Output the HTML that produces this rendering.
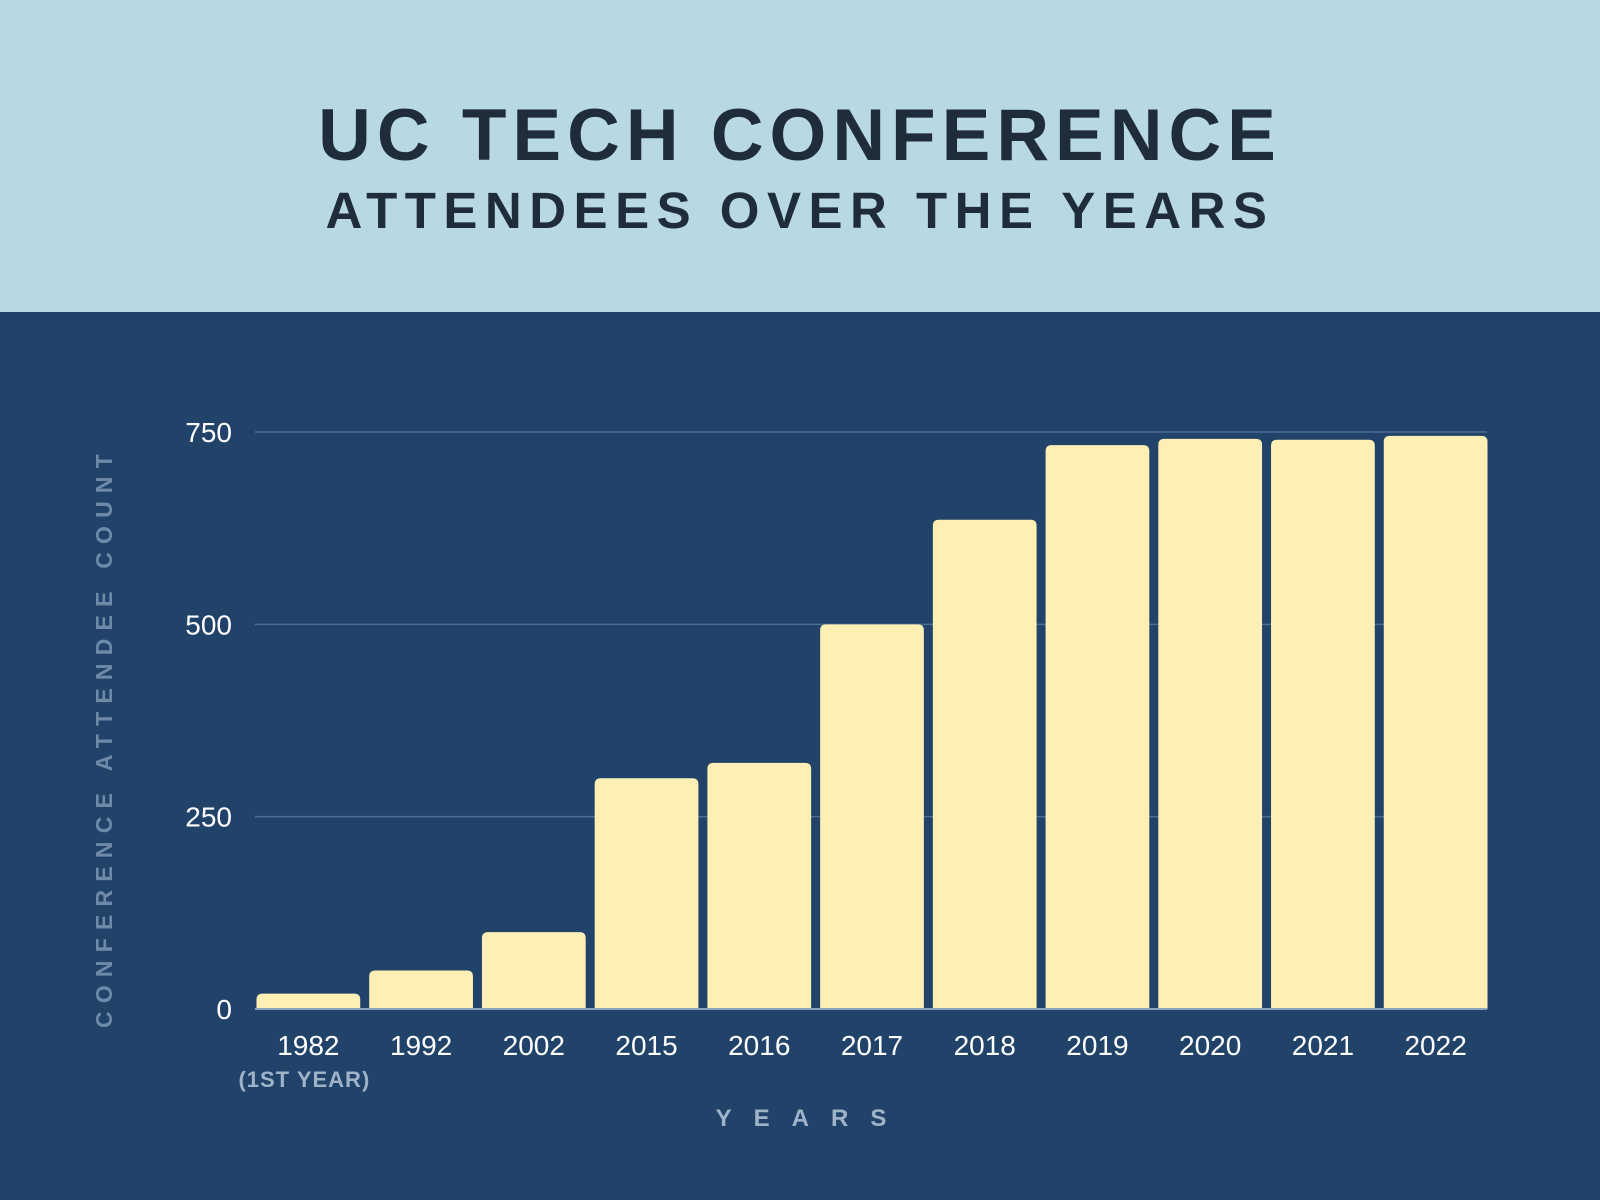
<!DOCTYPE html>
<html><head><meta charset="utf-8"><style>
body{margin:0;width:1600px;height:1200px;overflow:hidden;background:#21436a;font-family:"Liberation Sans",sans-serif}
#hdr{position:absolute;left:0;top:0;width:1600px;height:312px;background:#b8d8e3}
.t{position:absolute;left:0;width:1600px;text-align:center;color:#1f2d3a;font-weight:bold}
</style></head><body>
<div id="hdr"></div>
<div class="t" style="top:94px;font-size:73px;letter-spacing:6px">UC TECH CONFERENCE</div>
<div class="t" style="top:181px;font-size:51px;letter-spacing:7.5px">ATTENDEES OVER THE YEARS</div>
<svg id="c" width="1600" height="1200" style="position:absolute;left:0;top:0"></svg>
<script>
const categories=["1982","1992","2002","2015","2016","2017","2018","2019","2020","2021","2022"];
const values=[20,50,100,300,320,500,636,733,741,740,745];
const ticks=[0,250,500,750];
const svg=document.getElementById('c');const NS='http://www.w3.org/2000/svg';
const x0=252,x1=1492,yb=1009,yt=432,vmax=750;
const step=(x1-x0)/categories.length,bw=step-9;
const y=v=>yb-(v/vmax)*(yb-yt);
const xs=i=>x0+i*step+4.5;
function mk(t,a,txt){const e=document.createElementNS(NS,t);for(const k in a)e.setAttribute(k,a[k]);if(txt!=null)e.textContent=txt;svg.appendChild(e);return e;}
ticks.forEach(t=>{
 if(t>0){const l=mk('line',{x1:x0+3,x2:x1-5,y1:y(t),y2:y(t),stroke:'#4d6d93','stroke-width':1.5});
 
 }
 const tx=mk('text',{x:232,y:y(t)+10,'text-anchor':'end',fill:'#fff','font-size':28},t);
 
 
});
values.forEach((v,i)=>{
 const h=yb-y(v),r=Math.min(6,h/2);const X=xs(i),Y=y(v);
 const p=mk('path',{d:`M${X},${yb}V${Y+r}Q${X},${Y} ${X+r},${Y}H${X+bw-r}Q${X+bw},${Y} ${X+bw},${Y+r}V${yb}Z`,fill:'#fef0b4'});
 
 
 const tx=mk('text',{x:X+bw/2,y:1055,'text-anchor':'middle',fill:'#fff','font-size':28},categories[i]);
 
 
});
const bl=mk('line',{x1:x0+3,x2:x1-5,y1:yb,y2:yb,stroke:'#8aa4c0','stroke-width':2});


const fy=mk('text',{x:xs(0)+bw/2-4,y:1087,'text-anchor':'middle',fill:'#9fb3c8','font-size':22,'font-weight':'bold','letter-spacing':1},'(1ST YEAR)');


const xt=mk('text',{x:812,y:1126,'text-anchor':'middle',fill:'#9fb3c8','font-size':24,'font-weight':'bold','letter-spacing':22},'YEARS');


const yt2=mk('text',{x:0,y:0,'text-anchor':'middle',fill:'#6e8aa8','font-size':23,'font-weight':'bold','letter-spacing':8.2,transform:'translate(112,737) rotate(-90)'},'CONFERENCE ATTENDEE COUNT');


</script>
</body></html>
